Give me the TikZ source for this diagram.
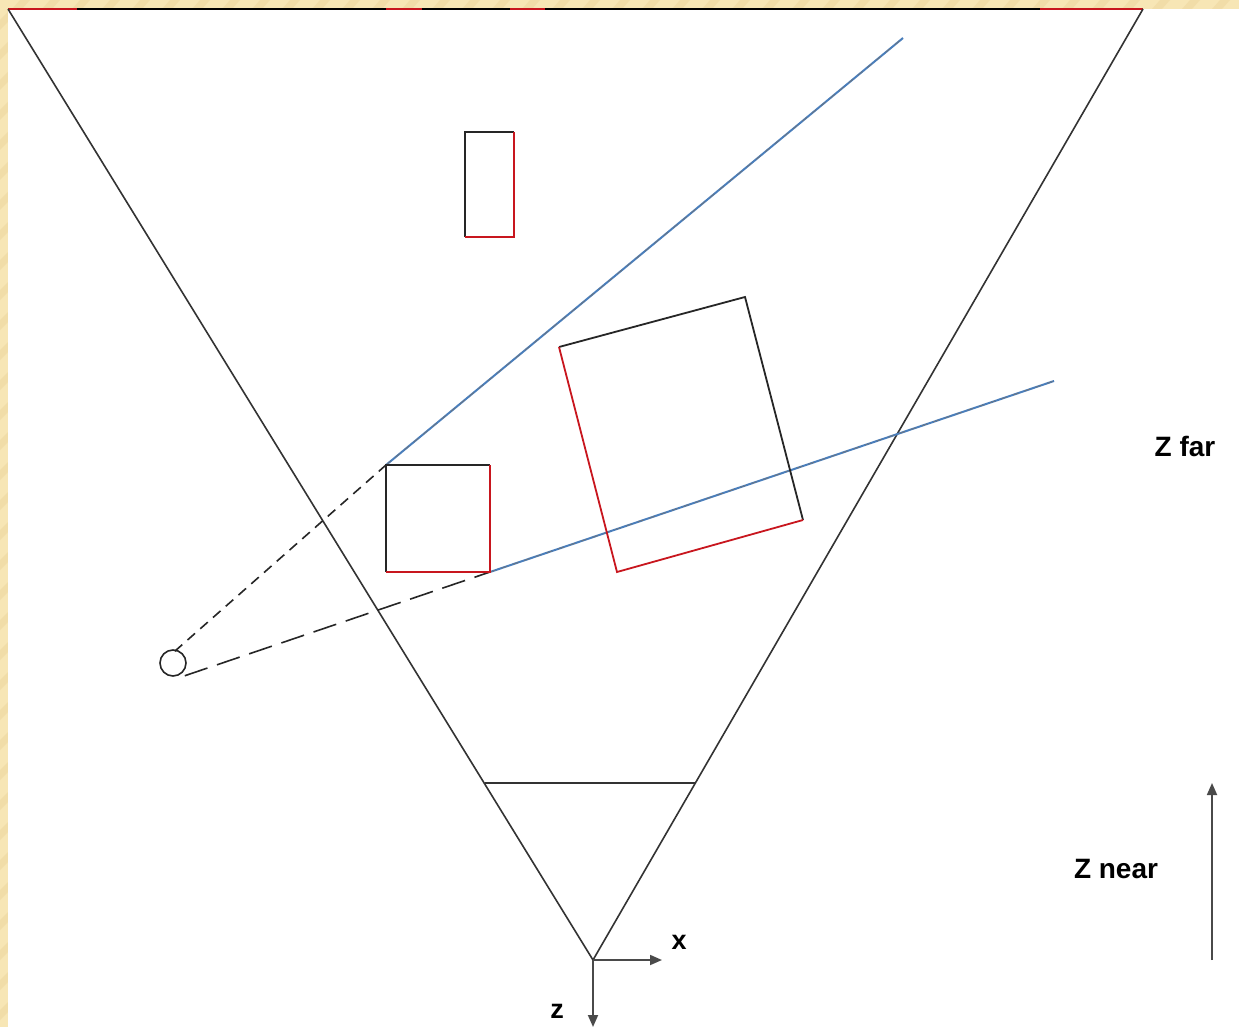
\documentclass[tikz,border=0pt]{standalone}
\usepackage{fontspec}
\setmainfont{Liberation Sans}
\usetikzlibrary{arrows.meta}
\definecolor{bgyellow}{HTML}{F7E6B5}
\definecolor{stripe}{HTML}{EED7A0}
\definecolor{edgered}{HTML}{C8161E}
\definecolor{rayblue}{HTML}{4A7EBB}
\definecolor{axisgray}{HTML}{4A4A4A}
\tikzset{
  frust/.style={draw=black!80, line width=1.6pt},
  blk/.style={draw=black!85, line width=1.8pt},
  redln/.style={draw=edgered, line width=1.8pt},
  ray/.style={draw=rayblue, line width=2pt},
  rayover/.style={draw=black!55, line width=0.6pt, dash pattern=on 6pt off 6pt},
  sightA/.style={draw=black!85, line width=1.6pt, dash pattern=on 10pt off 7pt},
  sightB/.style={draw=black!85, line width=1.6pt, dash pattern=on 24pt off 10pt},
  axis/.style={draw=axisgray, line width=1.8pt, -{Triangle[length=12pt,width=10pt]}},
  lbl/.style={font=\fontsize{28}{30}\bfseries\selectfont, inner sep=0pt}
}
\begin{document}
\begin{tikzpicture}[x=1pt,y=-1pt]
\useasboundingbox (0,0) rectangle (1239,1027);
% background
\fill[bgyellow] (0,0) rectangle (1239,1027);
\begin{scope}
\clip (0,0) rectangle (1239,1027);
\foreach \i in {-40,-10,...,1260}{
  \fill[stripe,opacity=0.6] (\i,0) -- (\i+10,0) -- (\i+2,9) -- (\i-8,9) -- cycle;
  }
\foreach \j in {-40,-10,...,1060}{
  \fill[stripe,opacity=0.6] (0,\j) -- (8,\j-8) -- (8,\j+2) -- (0,\j+10) -- cycle;
  }
\end{scope}
\fill[white] (8,9) rectangle (1239,1027);
% top edge
\draw[black, line width=2pt] (8,9) -- (1143,9);
\foreach \a/\b in {8/77,386/422,510/545,1040/1143}{
  \draw[edgered, line width=2pt] (\a,9) -- (\b,9);
}
% frustum
\coordinate (FL) at (8,9);
\coordinate (FR) at (1143,9);
\coordinate (O) at (593,960);
\coordinate (NL) at (485,783);
\coordinate (NR) at (695,783);
\draw[frust] (FL) -- (O) -- (FR);
\draw[frust] (NL) -- (NR);
% axes
\coordinate (XE) at (662,960);
\coordinate (ZE) at (593,1027);
\draw[axis] (O) -- (XE);
\draw[axis] (O) -- (ZE);
\node[lbl, font=\fontsize{27}{29}\bfseries\selectfont] (xl) at (679,942) {x};
\node[lbl, font=\fontsize{27}{29}\bfseries\selectfont] (zl) at (557,1011) {z};
% Z near arrow
\coordinate (ZN0) at (1212,960);
\coordinate (ZN1) at (1212,783);
\draw[axis] (ZN0) -- (ZN1);
\node[lbl] (znear) at (1116,869) {Z near};
\node[lbl] (zfar) at (1185,446) {Z far};
% camera
\node[draw=black!85, line width=1.6pt, circle, minimum size=26pt, inner sep=0pt] (cam) at (173,663) {};
% small square
\coordinate (S1) at (386,465);
\coordinate (S2) at (490,465);
\coordinate (S3) at (490,572);
\coordinate (S4) at (386,572);
% sight lines
\draw[sightA] (cam.north east) ++(-8,-2) coordinate (ca) (ca) -- (S1);
\draw[sightB] (cam.south east) ++(2,3) coordinate (cb) (cb) -- (S3);
% rays
\coordinate (R1) at (903,38);
\coordinate (R2) at (1054,381);
\draw[ray] (S1) -- (R1);
\draw[ray] (S3) -- (R2);
\draw[rayover] (S1) -- (R1);
\draw[rayover] (S3) -- (R2);
% small square edges
\draw[blk] (S4) -- (S1) -- (S2);
\draw[redln] (S2) -- (S3) -- (S4);
% tall rectangle
\coordinate (T1) at (465,132);
\coordinate (T2) at (514,132);
\coordinate (T3) at (514,237);
\coordinate (T4) at (465,237);
\draw[blk] (T4) -- (T1) -- (T2);
\draw[redln] (T2) -- (T3) -- (T4);
% rotated rectangle
\coordinate (B1) at (559,347);
\coordinate (B2) at (745,297);
\coordinate (B3) at (803,520);
\coordinate (B4) at (617,572);
\draw[blk] (B1) -- (B2) -- (B3);
\draw[redln] (B3) -- (B4) -- (B1);
\end{tikzpicture}
\end{document}
